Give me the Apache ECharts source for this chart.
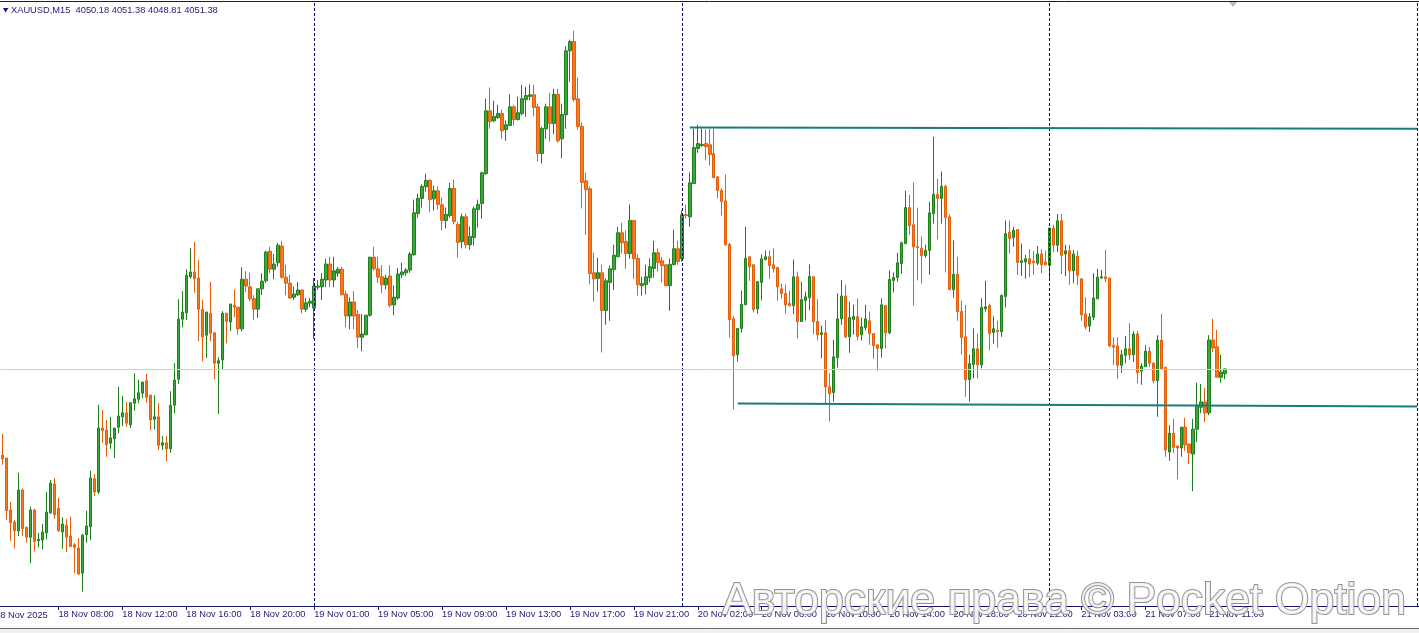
<!DOCTYPE html>
<html><head><meta charset="utf-8">
<style>html,body{margin:0;padding:0;background:#fff;overflow:hidden}#c{width:1419px;height:633px}</style>
<script src="https://cdn.jsdelivr.net/npm/echarts@6/dist/echarts.min.js"></script>
</head><body><div id="c"></div>
<script>
const symbolName = "XAUUSD,M15";
const firstDateLabel = "18 Nov 2025";
const tickLabels = ["18 Nov 08:00","18 Nov 12:00","18 Nov 16:00","18 Nov 20:00","19 Nov 01:00","19 Nov 05:00","19 Nov 09:00","19 Nov 13:00","19 Nov 17:00","19 Nov 21:00","20 Nov 02:00","20 Nov 06:00","20 Nov 10:00","20 Nov 14:00","20 Nov 18:00","20 Nov 22:00","21 Nov 03:00","21 Nov 07:00","21 Nov 11:00"];
const daySeparators = ["19 Nov 01:00","20 Nov 01:00","21 Nov 01:00"];
const watermark = "Авторские права © Pocket Option";

const open = [
4029.8,4029.1,4016.1,4013.1,4010.9,4021.1,4011.8,4009.3,4016.1,4008.4,
4008.6,4010.4,4015.4,4022.6,4016.5,4010.6,4012.3,4009.6,4007.4,4006.6,
4000.3,4009.9,4011.9,4023.9,4020.6,4036.6,4036.1,4032.8,4033.9,4036.8,
4039.4,4040.4,4037.4,4042.8,4043.8,4045.3,4048.4,4044.8,4038.8,4039.4,
4032.3,4032.9,4031.4,4042.3,4048.8,4063.8,4065.4,4074.4,4075.6,4074.1,
4066.3,4059.8,4065.3,4060.4,4052.8,4053.6,4065.3,4063.1,4067.3,4066.8,
4061.4,4073.8,4071.9,4068.9,4066.3,4071.4,4073.4,4080.8,4076.3,4077.9,
4082.1,4074.3,4072.8,4069.3,4069.9,4071.1,4066.3,4067.8,4066.6,4071.8,
4071.9,4073.6,4077.6,4073.6,4075.3,4076.3,4070.1,4064.6,4068.1,4065.0,
4059.3,4059.9,4064.8,4079.3,4076.4,4074.4,4072.4,4074.6,4067.4,4069.1,
4074.9,4075.4,4076.1,4079.9,4090.2,4094.0,4096.9,4098.5,4093.9,4095.9,
4092.4,4088.5,4089.7,4096.5,4087.5,4083.2,4089.4,4082.4,4084.2,4091.2,
4092.7,4100.2,4115.9,4113.4,4114.2,4115.2,4111.2,4112.2,4116.9,4113.7,
4115.2,4118.7,4119.5,4119.9,4116.9,4105.2,4111.4,4116.9,4112.7,4120.0,
4108.9,4114.9,4130.9,4133.2,4118.9,4112.0,4098.4,4096.4,4075.4,4074.0,
4075.4,4066.0,4073.0,4076.2,4079.4,4085.4,4083.2,4080.2,4088.5,4079.0,
4072.2,4072.5,4074.2,4076.5,4080.4,4078.4,4077.4,4072.2,4077.5,4081.4,
4078.9,4089.9,4089.4,4097.7,4106.5,4107.2,4107.7,4107.4,4105.2,4099.4,
4096.0,4093.4,4082.5,4063.9,4054.9,4061.5,4067.4,4079.4,4077.4,4066.4,
4073.0,4078.7,4079.4,4077.4,4076.7,4071.4,4070.2,4067.7,4067.2,4074.4,
4063.2,4068.5,4069.2,4074.4,4063.2,4060.0,4060.4,4046.9,4045.5,4054.2,
4063.9,4069.6,4059.4,4063.7,4064.4,4059.9,4061.7,4063.4,4060.2,4057.4,
4056.5,4067.2,4060.4,4073.5,4074.2,4077.7,4082.7,4091.7,4087.4,4081.9,
4081.5,4079.7,4081.0,4090.2,4095.0,4094.0,4097.0,4089.4,4071.2,4075.0,
4065.7,4059.4,4048.7,4052.5,4056.4,4052.4,4066.4,4067.2,4060.5,4061.0,
4060.7,4069.5,4085.5,4084.2,4086.2,4078.0,4078.1,4078.9,4078.3,4077.8,
4080.1,4078.1,4077.3,4086.6,4082.3,4088.4,4080.1,4080.9,4075.9,4079.6,
4073.9,4065.1,4062.1,4064.3,4068.9,4074.1,4074.4,4074.1,4057.3,4057.1,
4052.3,4054.8,4056.4,4054.9,4060.1,4050.8,4051.9,4055.8,4052.8,4048.4,
4058.6,4051.8,4030.6,4035.3,4032.1,4031.6,4036.8,4032.6,4030.1,4036.3,
4041.8,4043.1,4040.4,4058.6,4056.9,4049.3,4050.18];

const close = [
4028.9,4015.9,4012.9,4010.9,4021.1,4011.5,4009.3,4016.1,4008.2,4008.8,
4010.6,4015.6,4022.8,4014.9,4010.9,4012.6,4009.3,4007.0,4006.8,4000.1,
4009.8,4012.1,4024.1,4020.6,4036.6,4035.9,4032.4,4034.1,4036.6,4039.6,
4040.4,4037.8,4042.9,4043.9,4045.4,4048.1,4044.3,4038.6,4039.4,4032.3,
4032.9,4031.4,4042.3,4048.6,4063.8,4065.6,4074.8,4075.6,4073.9,4066.3,
4059.4,4065.6,4060.3,4052.8,4053.4,4065.3,4063.3,4067.6,4066.8,4061.4,
4073.8,4072.1,4068.9,4066.3,4071.4,4073.3,4080.6,4076.3,4077.6,4082.3,
4074.3,4072.8,4069.1,4070.1,4071.1,4066.3,4067.9,4068.3,4072.1,4072.1,
4073.8,4077.6,4073.6,4075.9,4076.3,4069.9,4064.6,4068.1,4064.6,4059.3,
4060.1,4064.8,4079.3,4076.4,4074.3,4072.4,4074.1,4067.3,4069.3,4075.1,
4075.6,4076.1,4080.1,4090.4,4094.0,4097.0,4098.5,4093.7,4095.9,4092.5,
4088.5,4090.0,4096.5,4088.2,4083.0,4089.4,4082.4,4084.5,4091.4,4092.5,
4100.4,4115.9,4113.2,4114.5,4115.2,4110.9,4112.4,4116.9,4113.7,4115.4,
4118.9,4119.7,4119.9,4116.7,4105.2,4111.5,4116.9,4112.7,4120.0,4108.4,
4115.0,4130.9,4133.2,4118.7,4112.0,4098.0,4096.2,4075.2,4073.9,4075.4,
4066.0,4073.4,4076.4,4079.8,4085.4,4082.9,4080.2,4088.5,4078.9,4072.4,
4072.7,4074.4,4076.9,4080.4,4078.0,4077.2,4072.2,4077.5,4081.4,4078.2,
4089.9,4089.7,4097.9,4106.7,4107.7,4107.5,4106.9,4105.0,4099.2,4096.0,
4093.2,4082.4,4063.7,4054.7,4061.5,4067.5,4079.0,4076.9,4066.2,4073.2,
4078.9,4079.4,4077.2,4076.4,4071.9,4070.2,4067.4,4067.2,4074.4,4063.2,
4068.7,4069.4,4074.5,4063.2,4059.9,4060.4,4046.9,4045.2,4054.4,4063.9,
4069.6,4059.4,4064.2,4064.5,4059.5,4061.9,4063.9,4060.2,4057.2,4056.5,
4067.4,4060.4,4073.7,4074.2,4077.9,4082.9,4091.7,4087.2,4081.9,4081.7,
4079.7,4081.0,4090.4,4095.0,4094.0,4097.0,4089.2,4071.2,4075.0,4065.7,
4059.2,4048.7,4052.7,4056.4,4052.4,4066.7,4066.9,4060.2,4061.4,4060.7,
4069.7,4085.2,4084.0,4086.0,4078.0,4078.4,4078.9,4077.6,4077.9,4080.1,
4077.4,4077.4,4086.6,4082.3,4088.4,4079.8,4080.9,4075.9,4080.1,4074.8,
4064.9,4061.9,4064.4,4069.1,4074.3,4074.4,4073.9,4057.1,4056.8,4052.3,
4054.9,4056.4,4054.9,4060.1,4050.4,4052.1,4055.8,4052.8,4048.4,4058.6,
4051.4,4031.1,4035.3,4031.8,4031.6,4036.8,4032.4,4030.4,4036.3,4042.3,
4043.1,4040.4,4058.6,4056.6,4049.3,4050.6,4051.38];

const low = [
4027.4,4013.6,4008.4,4006.5,4009.6,4009.6,4007.9,4002.8,4005.7,4006.8,
4006.3,4008.8,4015.1,4013.9,4010.6,4006.4,4005.6,4006.8,4000.3,3999.9,
3995.7,4007.9,4008.6,4019.6,4020.1,4032.9,4029.4,4031.4,4029.1,4035.3,
4037.1,4036.9,4036.6,4040.9,4042.8,4044.1,4042.9,4036.1,4036.3,4031.1,
4031.1,4028.3,4030.4,4040.3,4047.6,4061.8,4063.6,4073.9,4070.4,4058.3,
4053.3,4054.1,4058.3,4048.8,4040.1,4051.3,4057.8,4060.8,4064.3,4059.9,
4060.8,4070.6,4068.3,4063.6,4064.1,4069.8,4072.9,4075.3,4073.8,4076.9,
4073.9,4069.8,4068.9,4068.6,4069.6,4065.3,4065.6,4066.8,4058.9,4071.1,
4068.6,4071.8,4071.8,4071.8,4074.4,4069.8,4061.8,4061.3,4061.3,4056.6,
4055.8,4059.8,4064.4,4075.9,4072.8,4070.3,4071.3,4066.8,4064.8,4068.6,
4074.1,4074.6,4075.4,4079.7,4089.2,4091.7,4095.7,4090.5,4091.0,4091.2,
4086.0,4086.5,4089.2,4087.5,4079.2,4081.5,4081.5,4081.2,4082.2,4086.7,
4088.9,4099.9,4111.4,4113.0,4113.9,4108.9,4108.4,4112.2,4112.2,4113.5,
4114.7,4114.4,4118.5,4114.5,4103.2,4102.7,4108.9,4108.2,4110.0,4107.9,
4104.0,4111.4,4123.2,4118.2,4111.2,4091.5,4084.9,4072.5,4068.2,4070.7,
4055.5,4062.4,4063.4,4071.1,4079.4,4080.2,4076.4,4078.9,4073.9,4069.7,
4069.7,4070.0,4073.0,4074.2,4075.7,4073.0,4072.0,4065.9,4077.2,4077.4,
4078.2,4089.0,4086.9,4097.7,4105.4,4106.9,4103.5,4102.2,4099.0,4094.0,
4089.7,4082.2,4059.2,4041.2,4053.2,4060.4,4067.4,4073.4,4065.5,4065.2,
4068.5,4078.5,4073.9,4075.5,4068.5,4068.9,4065.2,4067.0,4065.0,4059.0,
4063.2,4063.5,4066.0,4060.0,4058.5,4054.0,4042.4,4038.2,4043.2,4051.7,
4062.4,4059.0,4055.4,4059.9,4058.5,4058.5,4061.0,4057.4,4053.9,4050.9,
4054.2,4056.5,4060.0,4070.5,4073.2,4075.2,4082.5,4084.9,4067.2,4073.5,
4072.7,4079.2,4074.9,4087.7,4083.7,4087.7,4075.5,4071.0,4069.2,4063.4,
4055.0,4044.4,4043.2,4049.0,4049.0,4051.5,4065.7,4056.0,4057.7,4056.7,
4059.4,4066.7,4080.2,4081.9,4074.9,4074.6,4073.9,4074.3,4074.9,4077.3,
4075.3,4077.3,4073.8,4080.6,4080.6,4075.1,4074.6,4072.4,4072.8,4072.3,
4063.4,4061.3,4060.6,4063.6,4068.8,4073.9,4073.1,4056.9,4052.3,4048.9,
4050.4,4052.8,4053.6,4053.1,4047.8,4047.4,4051.9,4051.8,4047.8,4039.4,
4051.2,4029.4,4028.4,4030.3,4023.8,4029.4,4030.9,4027.6,4020.8,4033.1,
4040.3,4038.1,4039.8,4055.6,4049.3,4047.9,4048.81];

const high = [
4035.1,4029.1,4018.1,4013.6,4025.4,4021.5,4011.9,4016.9,4016.4,4010.4,
4012.6,4020.6,4023.6,4024.1,4019.1,4014.3,4013.8,4014.4,4007.8,4009.1,
4010.1,4015.9,4025.9,4025.1,4042.4,4041.1,4038.6,4039.4,4036.6,4046.9,
4044.6,4043.1,4043.1,4050.3,4048.6,4048.1,4050.1,4044.9,4044.8,4042.8,
4034.6,4034.6,4045.8,4052.8,4068.8,4070.8,4076.3,4081.6,4083.1,4078.6,
4068.6,4065.6,4073.1,4060.4,4054.3,4065.8,4065.3,4067.6,4071.3,4066.8,
4076.8,4075.8,4075.4,4069.8,4071.4,4075.3,4080.9,4081.9,4080.1,4082.9,
4083.4,4077.4,4074.9,4071.9,4073.1,4071.1,4069.1,4069.1,4074.1,4073.6,
4075.3,4078.9,4079.4,4079.4,4076.9,4076.9,4070.9,4069.3,4070.8,4066.1,
4065.1,4064.8,4079.4,4081.9,4079.4,4077.3,4074.9,4077.3,4072.3,4076.6,
4077.9,4076.6,4080.6,4093.7,4095.2,4097.5,4100.2,4098.8,4097.2,4097.0,
4094.2,4091.7,4097.9,4098.7,4088.2,4090.2,4090.2,4086.9,4092.0,4093.7,
4100.7,4118.9,4121.7,4118.4,4117.4,4116.2,4113.5,4120.0,4117.4,4119.4,
4122.4,4121.9,4122.5,4122.4,4117.7,4111.9,4117.7,4120.4,4121.4,4121.4,
4117.7,4132.0,4133.7,4135.9,4124.2,4113.0,4100.4,4097.0,4080.4,4079.2,
4077.4,4074.0,4077.2,4082.4,4086.9,4087.9,4086.0,4092.5,4088.5,4080.0,
4074.4,4077.4,4079.0,4083.4,4081.5,4079.4,4077.4,4078.9,4086.2,4083.4,
4091.0,4092.4,4100.5,4111.4,4112.4,4111.4,4111.2,4111.4,4111.4,4099.4,
4096.5,4100.0,4082.9,4064.5,4061.5,4070.9,4086.9,4079.6,4077.5,4073.2,
4080.0,4081.0,4081.0,4081.5,4076.9,4072.7,4072.5,4070.9,4078.7,4075.7,
4073.2,4070.7,4077.5,4074.4,4068.8,4062.2,4063.6,4050.3,4058.6,4070.3,
4073.6,4072.4,4068.2,4067.4,4069.0,4064.2,4067.4,4065.7,4060.2,4057.4,
4069.0,4067.2,4076.0,4075.5,4080.4,4083.2,4095.9,4094.9,4098.0,4091.7,
4084.5,4082.4,4093.2,4109.4,4098.9,4100.7,4097.4,4090.0,4083.5,4079.4,
4068.4,4067.4,4054.9,4061.5,4060.2,4069.0,4073.4,4067.7,4064.5,4063.4,
4070.0,4088.5,4088.5,4086.9,4086.2,4082.7,4079.9,4081.3,4080.8,4082.1,
4081.3,4080.9,4086.6,4087.4,4090.1,4090.1,4082.4,4082.4,4081.1,4080.9,
4073.9,4069.3,4065.3,4075.3,4076.4,4076.1,4081.1,4074.1,4059.3,4059.3,
4056.1,4059.6,4062.8,4060.8,4060.8,4052.8,4057.3,4056.9,4053.1,4059.8,
4065.1,4051.8,4037.3,4038.9,4032.1,4036.9,4039.1,4032.6,4038.9,4047.9,
4047.6,4046.6,4059.8,4063.9,4061.1,4054.9,4051.38];

// drawn trend lines: [bar index, price]
const resistanceLine = [[172, 4111.7], [354, 4111.4]];
const supportLine = [[184, 4042.7], [354, 4042.0]];

// ---- build time categories (M15 bars, market closed 00:00-01:00)
const totalSlots = 355;
const timeCats = [];
(function(){
  let d = 18, h = 4, m = 30;
  const p = n => (n < 10 ? '0' : '') + n;
  for (let k = 0; k < totalSlots; k++) {
    timeCats.push(d + ' Nov ' + p(h) + ':' + p(m));
    m += 15;
    if (m === 60) { m = 0; h += 1; }
    if (h === 24) { h = 1; d += 1; }
  }
})();
const tickSet = new Set(tickLabels);
const candleData = open.map((o, i) => [o, close[i], low[i], high[i]]);
const last = open.length - 1;
const headerText = symbolName + '  ' + open[last].toFixed(2) + ' ' + high[last].toFixed(2) + ' ' + low[last].toFixed(2) + ' ' + close[last].toFixed(2);

const NAVY = '#14146e';
const TXT = '#1c1c78';
const FONT = '"Liberation Sans", Arial, sans-serif';

const chart = echarts.init(document.getElementById('c'), null, {renderer: 'canvas'});
const sepStyle = {type: [3, 2], color: '#000064', width: 1};
chart.setOption({
  animation: false,
  backgroundColor: '#ffffff',
  grid: {left: 0.5, top: 2, width: 1420, height: 604, containLabel: false},
  xAxis: {
    type: 'category', data: timeCats, boundaryGap: true,
    axisLine: {show: true, lineStyle: {color: NAVY, width: 1}},
    axisTick: {show: true, alignWithLabel: true, length: 4, interval: (i, v) => tickSet.has(v), lineStyle: {color: NAVY}},
    axisLabel: {interval: (i, v) => tickSet.has(v), align: 'left', margin: 4, color: TXT, fontFamily: FONT, fontSize: 9.3, hideOverlap: false},
    splitLine: {show: false}
  },
  yAxis: {type: 'value', min: 3992.1, max: 4143.1, show: false, splitLine: {show: false}},
  series: [
    {
      type: 'candlestick', data: candleData, barWidth: 3, z: 3,
      itemStyle: {color: '#3aa83a', color0: '#f47a22', borderColor: '#1f7f1f', borderColor0: '#e35f0c', borderWidth: 1},
      markLine: {
        silent: true, symbol: ['none', 'none'], label: {show: false}, animation: false,
        data: daySeparators.map(d => ({xAxis: d, lineStyle: sepStyle}))
          .concat([{xAxis: timeCats[totalSlots - 1], lineStyle: sepStyle}])
          .concat([{yAxis: close[last], lineStyle: {type: 'solid', color: '#cfcfcf', width: 1}}])
      }
    },
    {type: 'line', data: resistanceLine, symbol: 'none', z: 5, silent: true, lineStyle: {color: '#1b7b7b', width: 2}},
    {type: 'line', data: supportLine, symbol: 'none', z: 5, silent: true, lineStyle: {color: '#1b7b7b', width: 2}}
  ],
  graphic: [
    {type: 'line', shape: {x1: 0, y1: 1.5, x2: 1419, y2: 1.5}, style: {stroke: NAVY, lineWidth: 1}, z: 50},
    {type: 'polygon', shape: {points: [[3, 8], [8.5, 8], [5.5, 12.5]]}, style: {fill: TXT}, z: 50},
    {type: 'text', x: 11, y: 10, style: {text: headerText, font: '9.3px ' + FONT, fill: TXT, verticalAlign: 'middle'}, z: 50},
    {type: 'polygon', shape: {points: [[1229, 2], [1237, 2], [1233, 7]]}, style: {fill: '#b8b8c8'}, z: 50},
    {type: 'text', x: -5, y: 615, style: {text: firstDateLabel, font: '9.3px ' + FONT, fill: TXT, verticalAlign: 'middle'}, z: 50},
    {type: 'rect', shape: {x: 0, y: 628, width: 1419, height: 5}, style: {fill: '#f0f0f0'}, z: 40},
    {type: 'line', shape: {x1: 0, y1: 628.5, x2: 1419, y2: 628.5}, style: {stroke: '#6a6a6a', lineWidth: 1}, z: 41},
    {type: 'text', x: 722, y: 602, style: {text: watermark, font: '44.5px ' + FONT, fill: 'rgba(250,250,250,0.9)', stroke: '#949494', lineWidth: 2, verticalAlign: 'middle', shadowBlur: 2, shadowColor: 'rgba(0,0,0,0.25)'}, z: 100}
  ]
});
</script></body></html>
